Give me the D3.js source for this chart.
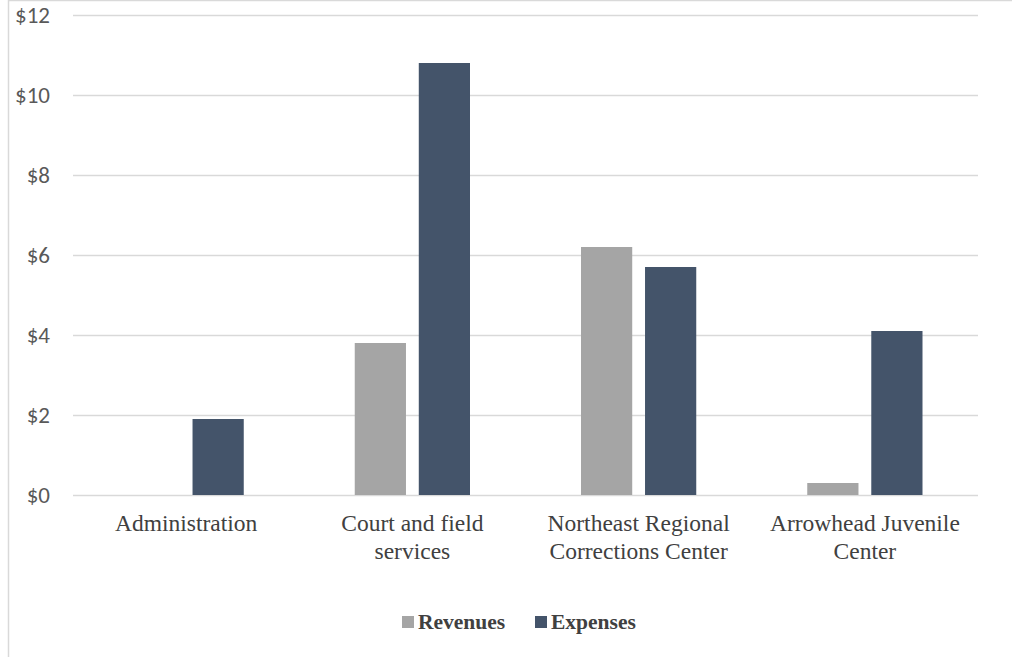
<!DOCTYPE html>
<html>
<head>
<meta charset="utf-8">
<script src="https://cdn.jsdelivr.net/npm/d3@7"></script>
<style>
  html, body { margin: 0; padding: 0; background: #fff; }
  #chart { width: 1012px; height: 657px; }
</style>
</head>
<body>
<div id="chart"></div>
<script>
// data (millions of dollars)
const categories = [
  ['Administration'],
  ['Court and field', 'services'],
  ['Northeast Regional', 'Corrections Center'],
  ['Arrowhead Juvenile', 'Center'],
];
const seriesNames = ['Revenues', 'Expenses'];
const revenues = [0, 3.8, 6.2, 0.3];
const expenses = [1.9, 10.8, 5.7, 4.1];
const yTicks = [0, 2, 4, 6, 8, 10, 12];

const colors = ['#A5A5A5', '#44546A'];

const W = 1012;
const H = 657;
const margin = { top: 15, right: 34, bottom: 162, left: 73 };
const width = W - margin.left - margin.right;
const height = H - margin.top - margin.bottom;

const svg = d3.select('#chart').append('svg')
  .attr('width', W)
  .attr('height', H);

// outer chart border
svg.append('rect')
  .attr('x', 8.5).attr('y', 0.5)
  .attr('width', W + 10).attr('height', H + 10)
  .attr('fill', 'none')
  .attr('stroke', '#D9D9D9')
  .attr('stroke-width', 1.5);

const g = svg.append('g')
  .attr('transform', `translate(${margin.left},${margin.top})`);

const x0 = d3.scaleBand()
  .domain(d3.range(categories.length))
  .range([0, width])
  .paddingInner(0)
  .paddingOuter(0);

const x1 = d3.scaleBand()
  .domain(d3.range(seriesNames.length))
  .range([55.5, x0.bandwidth() - 55.5])
  .paddingInner(0.2);

const y = d3.scaleLinear()
  .domain([0, 12])
  .range([height, 0]);

// gridlines
g.selectAll('.grid')
  .data(yTicks)
  .enter().append('line')
  .attr('x1', 0).attr('x2', width)
  .attr('y1', d => Math.round(y(d)) + 0.5)
  .attr('y2', d => Math.round(y(d)) + 0.5)
  .attr('stroke', '#D9D9D9')
  .attr('stroke-width', 1.5);

// y axis labels
const yAxis = g.append('g')
  .call(d3.axisLeft(y).tickValues(yTicks).tickSize(0).tickPadding(23)
    .tickFormat(d => `$${d}`));
yAxis.select('.domain').remove();
yAxis.selectAll('text')
  .attr('fill', '#595959')
  .style('font-family', 'Carlito, Calibri, "Open Sans", sans-serif')
  .style('font-size', '23px');

// bars
const rows = categories.map((c, i) => [revenues[i], expenses[i]]);
const groups = g.selectAll('.cat')
  .data(rows)
  .enter().append('g')
  .attr('transform', (d, i) => `translate(${x0(i)},0)`);

groups.selectAll('rect')
  .data(d => d.map((v, k) => ({ v, k })))
  .enter().append('rect')
  .attr('x', d => x1(d.k))
  .attr('width', x1.bandwidth())
  .attr('y', d => y(d.v))
  .attr('height', d => height - y(d.v))
  .attr('fill', d => colors[d.k]);

// x axis labels
const xLabels = g.selectAll('.xl')
  .data(categories)
  .enter().append('text')
  .attr('x', (d, i) => x0(i) + x0.bandwidth() / 2)
  .attr('y', height + 36)
  .attr('text-anchor', 'middle')
  .attr('fill', '#404040')
  .style('font-family', '"Liberation Serif", "Times New Roman", serif')
  .style('font-size', '23.5px');
xLabels.selectAll('tspan')
  .data(d => d)
  .enter().append('tspan')
  .attr('x', function () { return d3.select(this.parentNode).attr('x'); })
  .attr('dy', (d, i) => (i === 0 ? 0 : 28))
  .text(d => d);

// legend
const legendX = [402, 535];
const legend = svg.selectAll('.legend')
  .data(seriesNames)
  .enter().append('g')
  .attr('transform', (d, i) => `translate(${legendX[i]},629)`);
legend.append('rect')
  .attr('x', 0).attr('y', -13)
  .attr('width', 12).attr('height', 12)
  .attr('fill', (d, i) => colors[i]);
legend.append('text')
  .attr('x', 16).attr('y', 0)
  .attr('fill', '#404040')
  .style('font-family', '"Liberation Serif", "Times New Roman", serif')
  .style('font-size', '21.5px')
  .style('font-weight', 'bold')
  .text(d => d);
</script>
</body>
</html>
